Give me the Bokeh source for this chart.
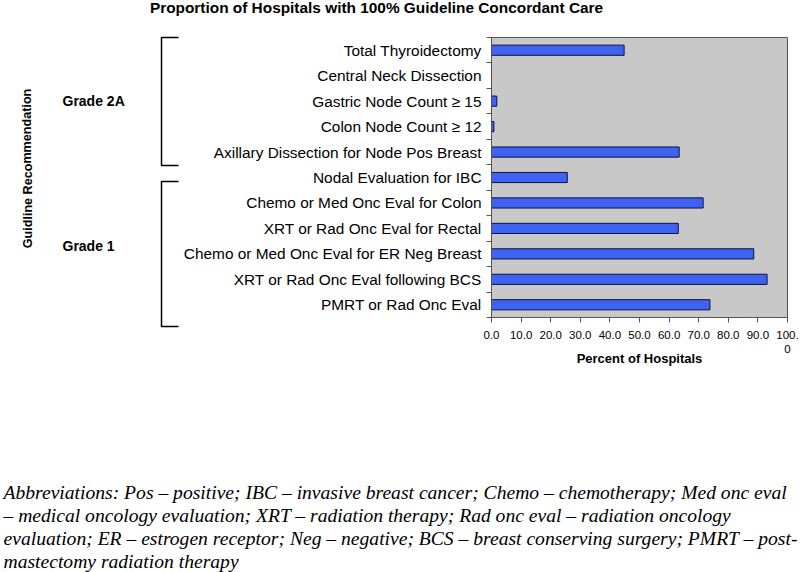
from bokeh.plotting import figure
from bokeh.models import Range1d, FixedTicker, ColumnDataSource
from bokeh.layouts import column, row
from bokeh.core.properties import value
from bokeh.embed import file_html
from bokeh.resources import INLINE

# ---------------- data (top to bottom as in the chart) ----------------
categories = [
    "Total Thyroidectomy",
    "Central Neck Dissection",
    "Gastric Node Count \u2265 15",
    "Colon Node Count \u2265 12",
    "Axillary Dissection for Node Pos Breast",
    "Nodal Evaluation for IBC",
    "Chemo or Med Onc Eval for Colon",
    "XRT or Rad Onc Eval for Rectal",
    "Chemo or Med Onc Eval for ER Neg Breast",
    "XRT or Rad Onc Eval following BCS",
    "PMRT or Rad Onc Eval",
]
values = [44.8, 0.0, 1.8, 0.8, 63.4, 25.6, 71.5, 63.1, 88.6, 93.1, 73.8]
x_ticks = [0, 10, 20, 30, 40, 50, 60, 70, 80, 90, 100]
x_tick_labels = ["0.0", "10.0", "20.0", "30.0", "40.0", "50.0", "60.0",
                 "70.0", "80.0", "90.0", "100.\n0"]
groups = ["Grade 2A", "Grade 1"]
y_axis_title = "Guidline Recommendation"
x_axis_title = "Percent of Hospitals"
title_text = "Proportion of Hospitals with 100% Guideline Concordant Care"
footnote_lines = [
    "Abbreviations: Pos \u2013 positive; IBC \u2013 invasive breast cancer; Chemo \u2013 chemotherapy; Med onc eval",
    "\u2013 medical oncology evaluation; XRT \u2013 radiation therapy; Rad onc eval \u2013 radiation oncology",
    "evaluation; ER \u2013 estrogen receptor; Neg \u2013 negative; BCS \u2013 breast conserving surgery; PMRT \u2013 post-",
    "mastectomy radiation therapy",
]

FONT = "Liberation Sans"
SERIF = "Liberation Serif"

LEFT_W = 180
MID_TOP, MID_BOT = 30, 390


def blank(width, height, y_top, y_bottom):
    """A figure without axes whose coordinates are page pixels."""
    f = figure(width=width, height=height, output_backend="svg", toolbar_location=None,
               x_range=Range1d(0, width), y_range=Range1d(y_bottom, y_top),
               x_axis_location=None, y_axis_location=None,
               min_border=0, min_border_left=0, min_border_right=0,
               min_border_top=0, min_border_bottom=0)
    f.frame_align = False
    f.outline_line_color = None
    f.xgrid.grid_line_color = None
    f.ygrid.grid_line_color = None
    f.background_fill_color = "white"
    f.border_fill_color = "white"
    return f


# ---------------- title strip ----------------
t = blank(800, MID_TOP, 0, MID_TOP)
t.text(x=[376], y=[7], text=[title_text], text_font=value(FONT), text_font_style="bold",
       text_font_size="15.4px", text_align="center", text_baseline="middle", text_color="black")

# ---------------- left strip: group labels and brackets ----------------
left = blank(LEFT_W, MID_BOT - MID_TOP, MID_TOP, MID_BOT)
left.text(x=[27], y=[168], text=[y_axis_title], angle=1.5708, text_font=value(FONT),
          text_font_style="bold", text_font_size="12.6px", text_align="center",
          text_baseline="middle", text_color="black")
left.text(x=[62, 62], y=[100, 245], text=groups, text_font=value(FONT),
          text_font_style="bold", text_font_size="14px", text_align="left",
          text_baseline="middle", text_color="black")
br_top = [37, 181]
br_bot = [165, 326]
for y0, y1 in zip(br_top, br_bot):
    left.line(x=[178, 161, 161, 178], y=[y0, y0, y1, y1], line_color="black", line_width=1.5)

# ---------------- main bar chart ----------------
n = len(categories)
ypos = [n - i - 0.5 for i in range(n)]

p = figure(width=800 - LEFT_W, height=MID_BOT - MID_TOP, output_backend="svg",
           toolbar_location=None, x_range=Range1d(0, 100), y_range=Range1d(0, n),
           min_border_left=491 - LEFT_W, min_border_right=13,
           min_border_top=37 - MID_TOP, min_border_bottom=MID_BOT - 317)
p.frame_align = False
p.background_fill_color = "#C8C8C8"
p.border_fill_color = "white"
p.outline_line_color = "#555555"
p.outline_line_width = 1
p.xgrid.grid_line_color = None
p.ygrid.grid_line_color = None

src = ColumnDataSource(dict(y=ypos, right=values))
p.hbar(y="y", right="right", left=0, height=0.4, source=src,
       fill_color="#3D63F0", line_color="#101040", line_width=1)

p.yaxis.ticker = FixedTicker(ticks=ypos, minor_ticks=list(range(n + 1)))
p.yaxis.major_label_overrides = {y: c for y, c in zip(ypos, categories)}
p.yaxis.major_tick_out = 0
p.yaxis.major_tick_in = 0
p.yaxis.minor_tick_out = 5
p.yaxis.minor_tick_in = 0
p.yaxis.minor_tick_line_color = "#555555"
p.yaxis.axis_line_color = "#555555"
p.yaxis.major_label_standoff = 5
p.yaxis.major_label_text_font = FONT
p.yaxis.major_label_text_font_size = "15.4px"
p.yaxis.major_label_text_color = "black"

p.xaxis.ticker = FixedTicker(ticks=x_ticks, minor_ticks=[])
p.xaxis.major_label_overrides = {tk: lb for tk, lb in zip(x_ticks, x_tick_labels)}
p.xaxis.major_tick_out = 5
p.xaxis.major_tick_in = 0
p.xaxis.major_tick_line_color = "#555555"
p.xaxis.axis_line_color = "#555555"
p.xaxis.major_label_text_font = FONT
p.xaxis.major_label_text_font_size = "11.5px"
p.xaxis.major_label_text_color = "black"
p.xaxis.major_label_standoff = 6
p.xaxis.axis_label = x_axis_title
p.xaxis.axis_label_text_font = FONT
p.xaxis.axis_label_text_font_size = "13px"
p.xaxis.axis_label_text_font_style = "bold"
p.xaxis.axis_label_text_color = "black"
p.xaxis.axis_label_standoff = -7

# ---------------- footnote strip ----------------
F_TOP, F_BOT = MID_BOT, 572
foot = blank(800, F_BOT - F_TOP, F_TOP, F_BOT)
foot.text(x=[3] * len(footnote_lines), y=[492 + 23 * i for i in range(len(footnote_lines))],
          text=footnote_lines, text_font=value(SERIF), text_font_style="italic",
          text_font_size="19.6px", text_align="left", text_baseline="middle", text_color="black")

layout = column(t, row(left, p, spacing=0), foot, spacing=0)
open("out.html", "w").write(file_html(layout, INLINE))
